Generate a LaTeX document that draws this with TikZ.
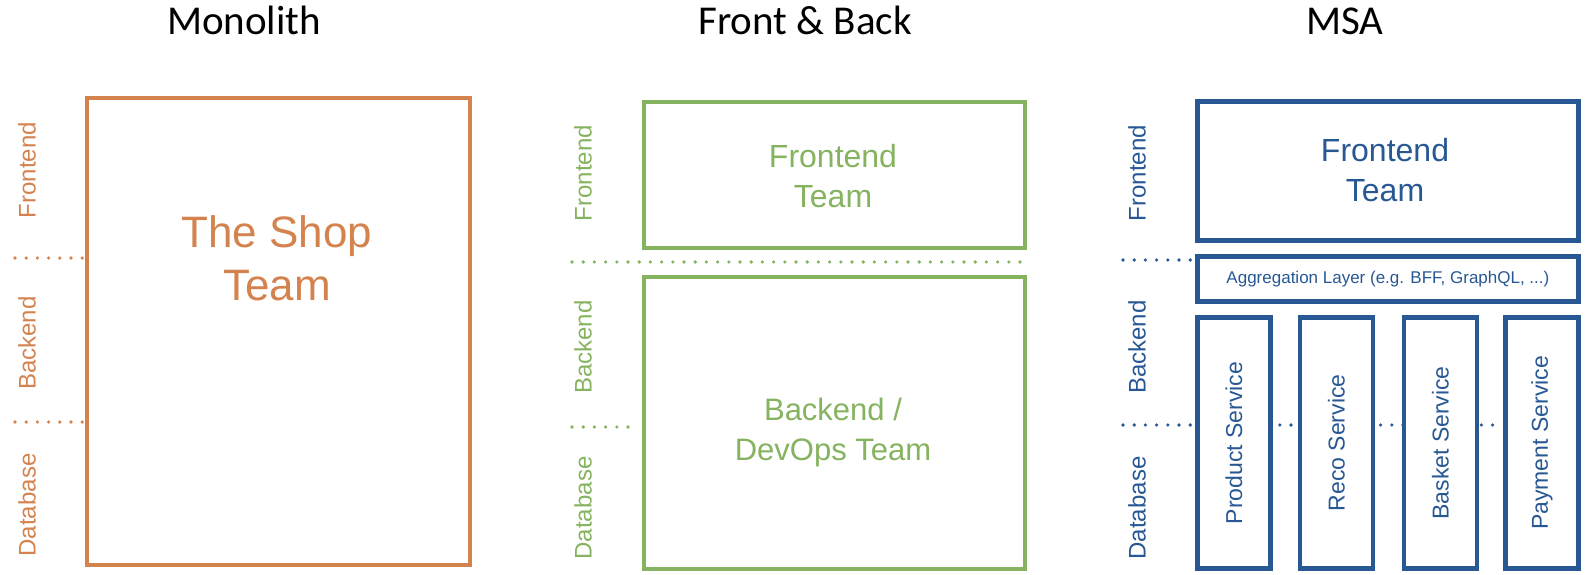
\documentclass[tikz,border=0pt]{standalone}
\usepackage{fontspec}
\setmainfont{Liberation Sans}
\newfontfamily\titlefont{Carlito}
\usetikzlibrary{positioning}
\definecolor{monocol}{RGB}{212,131,79}
\definecolor{fbcol}{RGB}{134,179,95}
\definecolor{msacol}{RGB}{40,88,148}

\begin{document}
\begin{tikzpicture}[
  x=1pt, y=-1pt,
  title/.style={font=\titlefont\fontsize{41}{49}\selectfont, anchor=base},
  team/.style={draw, line width=4pt, fill=white, inner sep=0pt, anchor=north west},
  lane/.style={rotate=90, inner sep=0pt, font=\fontsize{24}{28}\selectfont},
  sep/.style={line width=3.6pt, line cap=round, dash pattern=on 0pt off 11.2pt},
  big/.style={align=center, inner sep=0pt, font=\fontsize{32}{40}\selectfont},
  svc/.style={team, line width=4.8pt, draw=msacol, minimum width=73pt, minimum height=251pt}
]
\useasboundingbox (0,0) rectangle (1587,575);

% titles
\node[title] (t1) at (244,35) {Monolith};
\node[title] (t2) at (805,35) {Front \& Back};
\node[title] (t3) at (1345,35) {MSA};

% Monolith
\begin{scope}[monocol]
\draw[sep] (15,258) -- (83,258);
\draw[sep] (15,422) -- (83,422);
\node[team, minimum width=383pt, minimum height=467pt] (shop) at (85,96) {};
\node[big, font=\fontsize{44}{53}\selectfont] (shopt) at (277,258) {The Shop\\Team};
\node[lane] (m1) at (27,170) {Frontend};
\node[lane] (m2) at (27,343) {Backend};
\node[lane] (m3) at (27,505) {Database};
\end{scope}

% Front & Back
\begin{scope}[fbcol]
\draw[sep] (572,262) -- (1027,262);
\draw[sep] (572,427) -- (638,427);
\node[team, minimum width=381pt, minimum height=146pt] (fe) at (642,100) {};
\node[team, minimum width=381pt, minimum height=292pt] (be) at (642,275) {};
\node[big] (fet) at (833,176) {Frontend\\Team};
\node[big, font=\fontsize{31}{40}\selectfont] (bet) at (833,432) {Backend /\\DevOps Team};
\node[lane] (f1) at (583,173) {Frontend};
\node[lane] (f2) at (583,347) {Backend};
\node[lane] (f3) at (583,508) {Database};
\end{scope}

% MSA
\begin{scope}[msacol]
\draw[sep] (1123,260) -- (1191,260);
\draw[sep] (1123,425) -- (1500,425);
\node[team, line width=4.8pt, minimum width=381pt, minimum height=139pt] (mfe) at (1195,99) {};
\node[big] (mfet) at (1385,170) {Frontend\\Team};
\node[team, line width=4.8pt, minimum width=381pt, minimum height=45pt,
  font=\fontsize{17}{20}\selectfont] (agg) at (1195,254) {Aggregation Layer (e.g. BFF, GraphQL, ...)};
\node[svc] (prod) at (1195,315) {};
\node[svc] (reco) at (1297.5,315) {};
\node[svc] (bask) at (1401.5,315) {};
\node[svc] (pay) at (1503,315) {};
\foreach \b/\t in {prod/Product Service, reco/Reco Service, bask/Basket Service, pay/Payment Service}
  \node[lane, font=\fontsize{23}{28}\selectfont] (\b t) at (\b.center) {\t};
\node[lane] (s1) at (1137,173) {Frontend};
\node[lane] (s2) at (1137,347) {Backend};
\node[lane] (s3) at (1137,508) {Database};
\end{scope}
\end{tikzpicture}
\end{document}
